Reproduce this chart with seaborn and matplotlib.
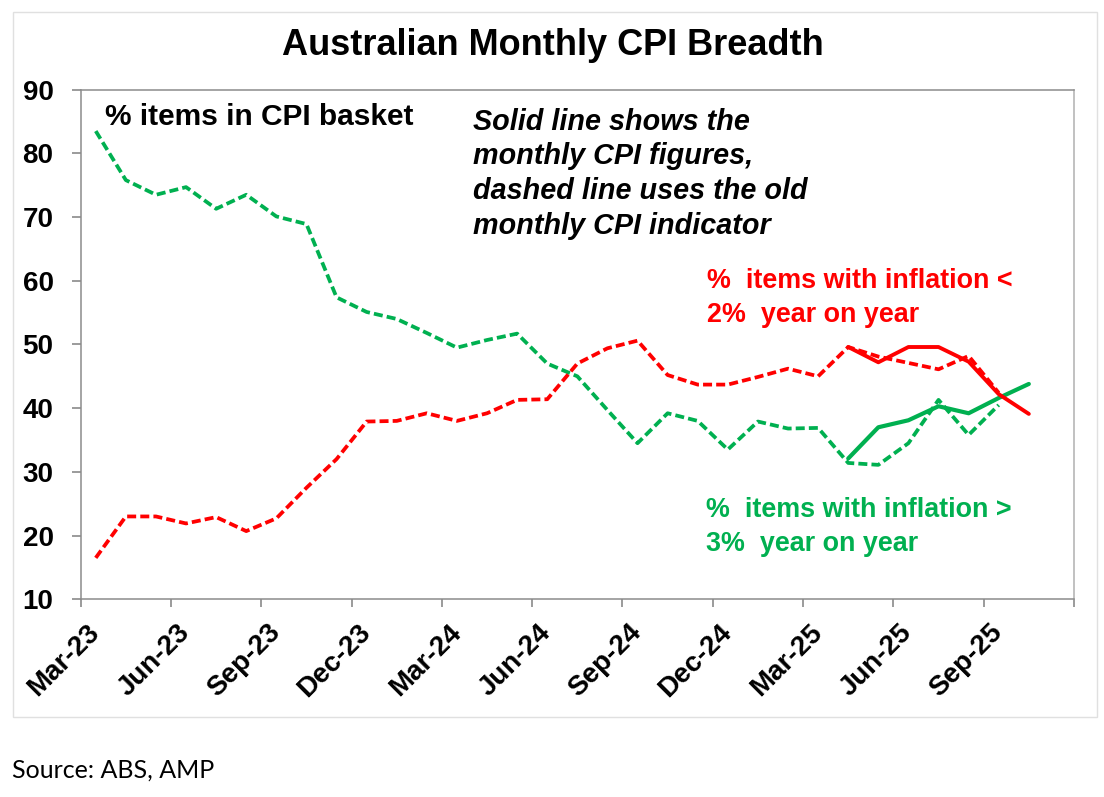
import numpy as np
import pandas as pd
import matplotlib.pyplot as plt
import seaborn as sns
from matplotlib.patches import Rectangle

sns.set_style("ticks")
plt.rcParams['font.family'] = ['Liberation Sans', 'DejaVu Sans']
plt.rcParams['text.color'] = 'black'

# monthly categories, Mar-23 .. Oct-25
months = ["Mar-23", "Apr-23", "May-23", "Jun-23", "Jul-23", "Aug-23", "Sep-23", "Oct-23",
          "Nov-23", "Dec-23", "Jan-24", "Feb-24", "Mar-24", "Apr-24", "May-24", "Jun-24",
          "Jul-24", "Aug-24", "Sep-24", "Oct-24", "Nov-24", "Dec-24", "Jan-25", "Feb-25",
          "Mar-25", "Apr-25", "May-25", "Jun-25", "Jul-25", "Aug-25", "Sep-25", "Oct-25"]
tick_labels = ["Mar-23", "Jun-23", "Sep-23", "Dec-23", "Mar-24", "Jun-24",
               "Sep-24", "Dec-24", "Mar-25", "Jun-25", "Sep-25"]

# old monthly CPI indicator (dashed), Mar-23 .. Sep-25
old_above3 = [83.5, 75.8, 73.5, 74.7, 71.3, 73.5, 70.1, 68.9, 57.4, 55.1, 54.0, 51.8,
              49.5, 50.7, 51.7, 47.0, 45.0, 39.7, 34.5, 39.2, 38.0, 33.5, 37.9, 36.8,
              36.9, 31.4, 31.1, 34.5, 41.3, 35.8, 40.5]
old_below2 = [16.5, 23.0, 23.0, 21.9, 22.9, 20.7, 22.7, 27.5, 32.0, 37.9, 38.0, 39.2,
              38.0, 39.2, 41.3, 41.4, 47.0, 49.4, 50.6, 45.2, 43.7, 43.7, 44.9, 46.2,
              45.0, 49.6, 48.1, 47.1, 46.1, 48.2, 42.4]

# new complete monthly CPI (solid), Apr-25 .. Oct-25
new_months = ["Apr-25", "May-25", "Jun-25", "Jul-25", "Aug-25", "Sep-25", "Oct-25"]
new_above3 = [32.1, 37.0, 38.1, 40.3, 39.2, 41.6, 43.8]
new_below2 = [49.6, 47.2, 49.6, 49.6, 47.3, 42.2, 39.1]

GREEN = "#00B050"
RED = "#FF0000"

old_df = pd.DataFrame({"month": months[:len(old_above3)], "above3": old_above3, "below2": old_below2})
old_df["pos"] = [months.index(m) for m in old_df["month"]]
new_df = pd.DataFrame({"month": new_months, "above3": new_above3, "below2": new_below2})
new_df["pos"] = [months.index(m) for m in new_df["month"]]

fig = plt.figure(figsize=(11.04, 7.97), dpi=100)
ax = fig.add_axes([0.0731, 0.2481, 0.8997, 0.6394])

dash = (0, (2.4, 1.1))
sns.lineplot(data=old_df, x="pos", y="above3", ax=ax, color=GREEN, lw=2.7, linestyle=dash, errorbar=None)
sns.lineplot(data=old_df, x="pos", y="below2", ax=ax, color=RED, lw=2.7, linestyle=dash, errorbar=None)
sns.lineplot(data=new_df, x="pos", y="above3", ax=ax, color=GREEN, lw=3.0, errorbar=None)
sns.lineplot(data=new_df, x="pos", y="below2", ax=ax, color=RED, lw=2.8, errorbar=None)

ax.set_xlabel("")
ax.set_ylabel("")
ax.set_xlim(-0.5, len(months) + 0.5)
ax.set_ylim(10, 90)

# tick marks on month boundaries, labels in the middle of the month
major = np.arange(-0.5, len(months) + 1, 3)
ax.set_xticks(major, labels=[""] * len(major))
ax.set_xticks([months.index(t) for t in tick_labels], minor=True)
ax.set_xticklabels(tick_labels, minor=True, rotation=45, ha="right", va="center",
                   rotation_mode="anchor", fontsize=20, fontweight="bold", color="black")
ax.tick_params(axis="x", which="minor", length=0, pad=21)
ax.tick_params(axis="x", which="major", length=6, width=1.1, color="#808080")

ax.set_yticks(range(10, 91, 10))
ax.set_yticklabels([str(v) for v in range(10, 91, 10)], fontsize=20, fontweight="bold", color="black")
ax.tick_params(axis="y", length=6.5, width=1.1, color="#808080", pad=13)

for side in ["left", "bottom", "top"]:
    ax.spines[side].set_color("#8C8C8C")
    ax.spines[side].set_linewidth(1.1)
ax.spines["right"].set_color("#B0B0B0")
ax.spines["right"].set_linewidth(1.1)

# annotations
ax.text(0.31, 85.7, "% items in CPI basket", fontsize=21.5, fontweight="bold", va="center")
ax.text(12.53, 76.8, "Solid line shows the\nmonthly CPI figures,\ndashed line uses the old\nmonthly CPI indicator",
        fontsize=20.7, fontweight="bold", style="italic", va="center", linespacing=1.31)
ax.text(20.31, 57.3, "%  items with inflation <\n2%  year on year", fontsize=19.4, fontweight="bold",
        color=RED, va="center", linespacing=1.4)
ax.text(20.28, 21.3, "%  items with inflation >\n3%  year on year", fontsize=19.4, fontweight="bold",
        color=GREEN, va="center", linespacing=1.4)

fig.text(0.501, 0.9435, "Australian Monthly CPI Breadth", ha="center", va="center",
         fontsize=26, fontweight="bold")
fig.text(0.011, 0.034, "Source: ABS, AMP", ha="left", va="center", fontsize=18, family="Lato")

# faint chart-area border
fig.add_artist(Rectangle((13 / 1104, 1 - 717 / 797), (1097 - 13) / 1104, (717 - 12) / 797,
                         transform=fig.transFigure, fill=False, edgecolor="#E0E0E0", lw=1))

fig.savefig("out.png", dpi=100)
